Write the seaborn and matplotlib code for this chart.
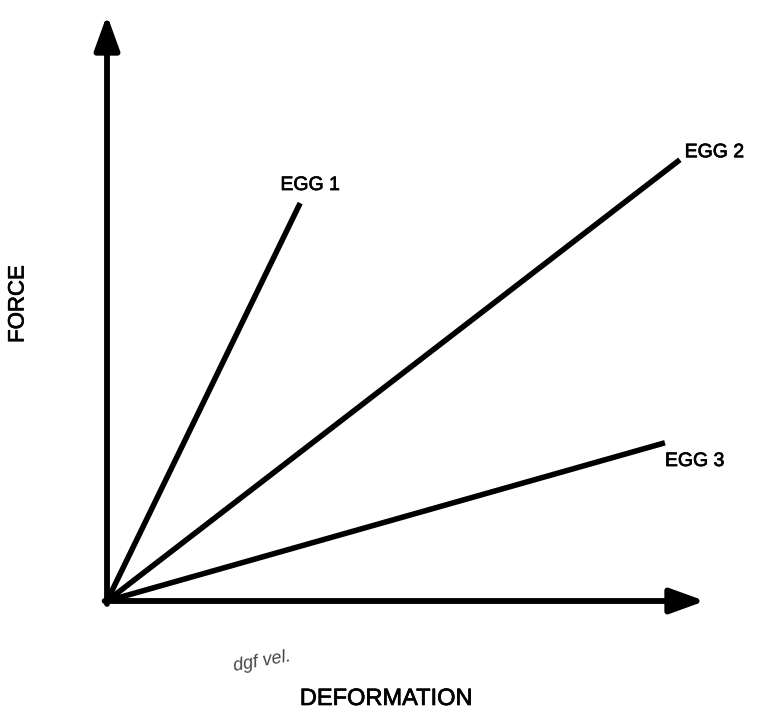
import matplotlib
matplotlib.use("Agg")
import matplotlib.pyplot as plt
import matplotlib.patheffects as pe
import seaborn as sns
import pandas as pd

eggs = ["EGG 1", "EGG 2", "EGG 3"]
end_deformation = [3.23, 9.58, 9.33]
end_force = [6.79, 7.53, 2.70]
x_label = "DEFORMATION"
y_label = "FORCE"
note = "dgf vel."

sns.set_theme(style="white")
plt.rcParams['font.family'] = ['Liberation Sans', 'DejaVu Sans']

rows = []
for name, xd, yf in zip(eggs, end_deformation, end_force):
    rows.append({"egg": name, "deformation": 0.0, "force": 0.0})
    rows.append({"egg": name, "deformation": xd, "force": yf})
df = pd.DataFrame(rows)

W, H = 758, 717
fig = plt.figure(figsize=(W / 100, H / 100), dpi=100)
x0, x1 = 107, 705
y0, y1 = 601, 15
ax = fig.add_axes([x0 / W, 1 - y0 / H, (x1 - x0) / W, (y0 - y1) / H])
ax.set_xlim(0, 10)
ax.set_ylim(0, 10)
for s in ax.spines.values():
    s.set_visible(False)
ax.set_xticks([])
ax.set_yticks([])
ax.set_xlabel("")
ax.set_ylabel("")

sns.lineplot(data=df, x="deformation", y="force", hue="egg",
             palette=["black"] * len(eggs), linewidth=4.0, legend=False,
             ax=ax, solid_capstyle="butt", sort=False)
for ln in ax.lines:
    ln.set_clip_on(False)

arrow = dict(arrowstyle="-|>,head_length=1.05,head_width=0.38", lw=4.2,
             color="black", mutation_scale=20, shrinkA=0, shrinkB=0)
ax.annotate("", xy=(0, 10), xytext=(0, -0.05), arrowprops=arrow,
            annotation_clip=False)
ax.annotate("", xy=(10, 0), xytext=(-0.04, 0), arrowprops=arrow,
            annotation_clip=False)

bold = [pe.withStroke(linewidth=0.5, foreground="black")]
offsets = [(-0.33, 0.3), (0.08, 0.12), (0.0, -0.32)]
for name, xd, yf, (dx, dy) in zip(eggs, end_deformation, end_force, offsets):
    ax.text(xd + dx, yf + dy, name, fontsize=14, color="black",
            ha="left", va="center", path_effects=bold)

fig.text(18 / W, 1 - 304 / H, y_label, rotation=90, fontsize=16,
         ha="center", va="center", color="black", path_effects=bold)
fig.text(386 / W, 1 - 699 / H, x_label, fontsize=17,
         ha="center", va="center", color="black", path_effects=bold)
fig.text(262 / W, 1 - 662 / H, note, fontsize=13, style="italic",
         rotation=10, ha="center", va="center", color="#444444")

fig.savefig("out.png", dpi=100, facecolor="white")
